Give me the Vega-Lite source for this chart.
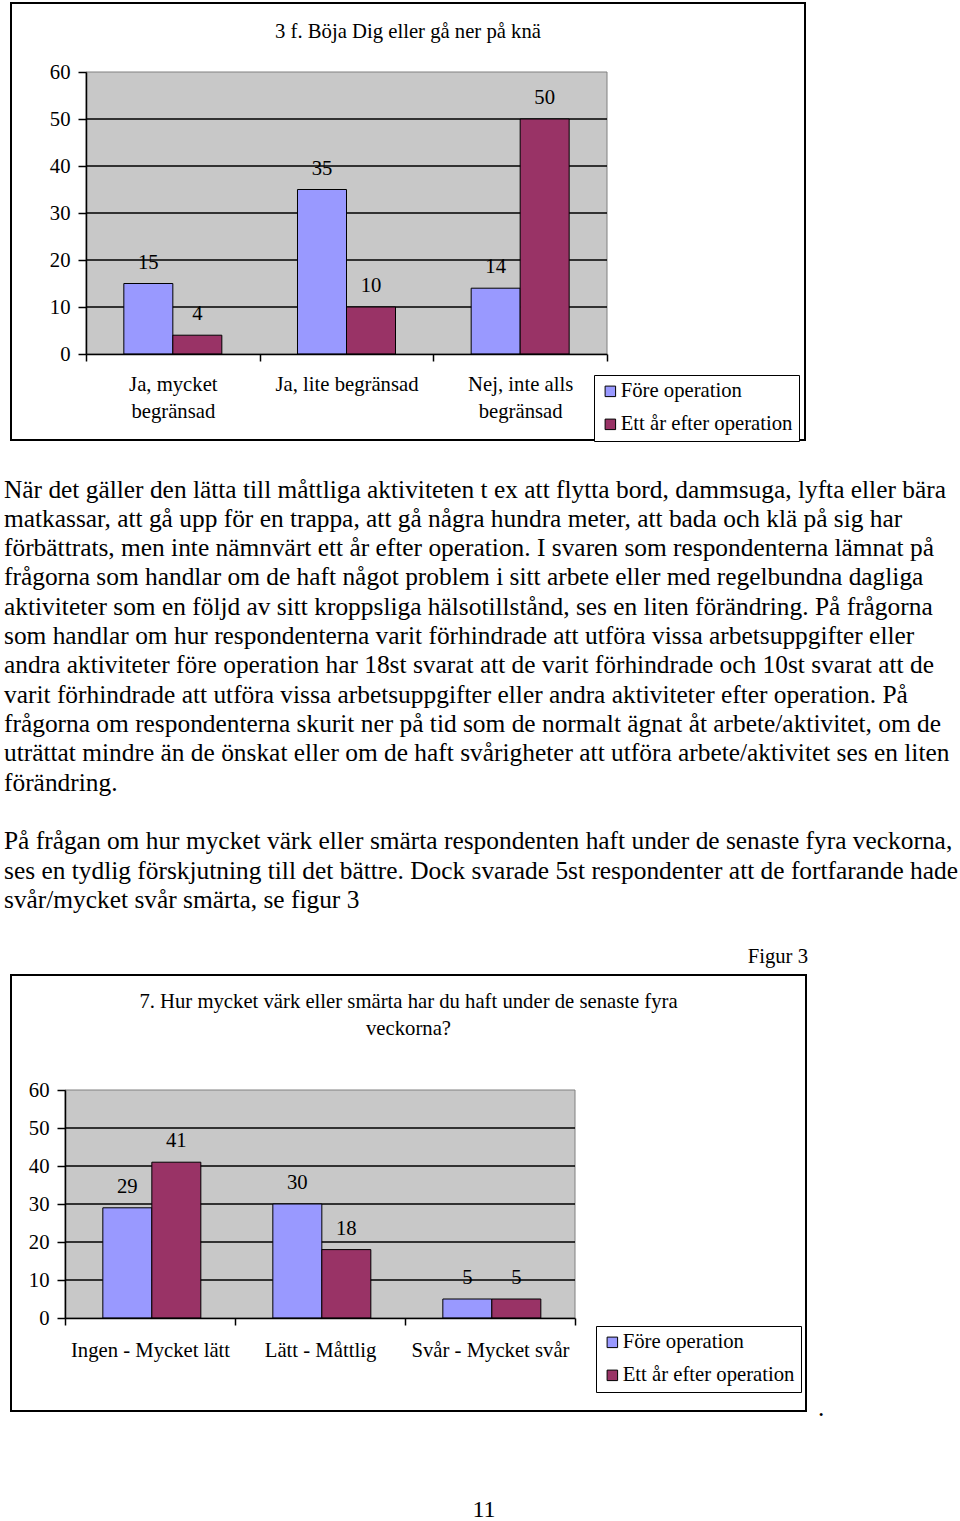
{
  "$schema": "https://vega.github.io/schema/vega-lite/v6.json",
  "padding": {"left": 4, "top": 2, "right": 0, "bottom": 0},
  "background": "white",
  "bounds": "flush",
  "spacing": 0,
  "resolve": {"scale": {"color": "independent"}, "legend": {"color": "independent"}},
  "config": {
    "view": {"stroke": "black", "strokeWidth": 2},
    "font": "Liberation Serif",
    "axis": {"labelFont": "Liberation Serif", "labelFontSize": 20.7, "labelColor": "black", "grid": false},
    "title": {"font": "Liberation Serif", "fontSize": 20.7, "fontWeight": "normal", "color": "black"}
  },
  "datasets": {
    "knee": [
      {"kategori": "Ja, mycket begränsad", "serie": "Före operation", "varde": 15},
      {"kategori": "Ja, mycket begränsad", "serie": "Ett år efter operation", "varde": 4},
      {"kategori": "Ja, lite begränsad", "serie": "Före operation", "varde": 35},
      {"kategori": "Ja, lite begränsad", "serie": "Ett år efter operation", "varde": 10},
      {"kategori": "Nej, inte alls begränsad", "serie": "Före operation", "varde": 14},
      {"kategori": "Nej, inte alls begränsad", "serie": "Ett år efter operation", "varde": 50}
    ],
    "pain": [
      {"kategori": "Ingen - Mycket lätt", "serie": "Före operation", "varde": 29},
      {"kategori": "Ingen - Mycket lätt", "serie": "Ett år efter operation", "varde": 41},
      {"kategori": "Lätt - Måttlig", "serie": "Före operation", "varde": 30},
      {"kategori": "Lätt - Måttlig", "serie": "Ett år efter operation", "varde": 18},
      {"kategori": "Svår - Mycket svår", "serie": "Före operation", "varde": 5},
      {"kategori": "Svår - Mycket svår", "serie": "Ett år efter operation", "varde": 5}
    ],
    "gridlines": [{"v": 10}, {"v": 20}, {"v": 30}, {"v": 40}, {"v": 50}]
  },
  "vconcat": [
    {
      "width": 794,
      "height": 437,
      "title": {"text": "3 f. Böja Dig eller gå ner på knä", "anchor": "middle", "frame": "group", "offset": -56, "baseline": "alphabetic"},
      "layer": [
        {
          "data": {"values": [{}]},
          "mark": {"type": "rect", "width": 521, "fill": "#c8c8c8", "fillOpacity": 1, "stroke": "#808080", "strokeWidth": 1},
          "encoding": {
            "x": {"datum": "Ja, lite begränsad", "type": "nominal"},
            "y": {"datum": 0, "type": "quantitative"},
            "y2": {"datum": 60}
          }
        },
        {
          "data": {"name": "gridlines"},
          "mark": {"type": "tick", "orient": "horizontal", "size": 521, "thickness": 1.5, "color": "black", "opacity": 1},
          "encoding": {
            "x": {"datum": "Ja, lite begränsad", "type": "nominal"},
            "y": {"field": "v", "type": "quantitative"}
          }
        },
        {
          "data": {"name": "knee"},
          "mark": {"type": "bar", "stroke": "black", "strokeWidth": 1, "opacity": 1},
          "encoding": {
            "x": {
              "field": "kategori", "type": "nominal", "sort": null,
              "scale": {"domain": ["Ja, mycket begränsad", "Ja, lite begränsad", "Nej, inte alls begränsad"], "range": [75, 596], "paddingInner": 0, "paddingOuter": 0},
              "axis": {
                "orient": "bottom", "offset": -86, "title": null, "zindex": 1,
                "domain": true, "domainColor": "black", "domainWidth": 1.5,
                "ticks": true, "tickBand": "extent", "tickSize": 7, "tickColor": "black", "tickWidth": 1.5,
                "labelPadding": 13, "labelAngle": 0, "labelAlign": "center", "labelBaseline": "top", "labelLimit": 400, "labelOverlap": false, "labelLineHeight": 27,
                "labelExpr": "datum.label == 'Ja, mycket begränsad' ? ['Ja, mycket', 'begränsad'] : datum.label == 'Nej, inte alls begränsad' ? ['Nej, inte alls', 'begränsad'] : datum.label"
              }
            },
            "xOffset": {"field": "serie", "type": "nominal", "sort": null, "scale": {"domain": ["Före operation", "Ett år efter operation"], "paddingInner": 0, "paddingOuter": 0.772}},
            "y": {
              "field": "varde", "type": "quantitative",
              "scale": {"domain": [0, 60], "range": [351, 69], "nice": false, "zero": false},
              "axis": {
                "orient": "left", "offset": -75, "title": null, "zindex": 1, "values": [0, 10, 20, 30, 40, 50, 60],
                "domain": true, "domainColor": "black", "domainWidth": 1.5,
                "ticks": true, "tickSize": 8, "tickColor": "black", "tickWidth": 1.5, "labelPadding": 8,
                "labelAlign": "right", "labelBaseline": "middle"
              }
            },
            "y2": {"datum": 0},
            "color": {
              "field": "serie", "type": "nominal", "sort": null,
              "scale": {"domain": ["Före operation", "Ett år efter operation"], "range": ["#9999ff", "#993366"]},
              "legend": {
                "orient": "none", "legendX": 583, "legendY": 372, "title": null,
                "symbolType": "square", "symbolSize": 110, "symbolStrokeColor": "black", "symbolStrokeWidth": 1, "symbolOpacity": 1,
                "labelFont": "Liberation Serif", "labelFontSize": 20.7, "labelColor": "black", "labelOffset": 0, "labelLimit": 400,
                "strokeColor": "black", "fillColor": "white", "padding": 6, "rowPadding": 11
              }
            }
          }
        },
        {
          "data": {"name": "knee"},
          "mark": {"type": "text", "baseline": "alphabetic", "dy": -15, "font": "Liberation Serif", "fontSize": 20.7, "color": "black"},
          "encoding": {
            "x": {"field": "kategori", "type": "nominal", "sort": null},
            "xOffset": {"field": "serie", "type": "nominal", "sort": null},
            "y": {"field": "varde", "type": "quantitative"},
            "text": {"field": "varde", "type": "quantitative"}
          }
        }
      ]
    },
    {
      "width": 797,
      "height": 535,
      "view": {"stroke": null},
      "layer": [
        {
          "data": {"values": [{"t": "När det gäller den lätta till måttliga aktiviteten t ex att flytta bord, dammsuga, lyfta eller bära\nmatkassar, att gå upp för en trappa, att gå några hundra meter, att bada och klä på sig har\nförbättrats, men inte nämnvärt ett år efter operation. I svaren som respondenterna lämnat på\nfrågorna som handlar om de haft något problem i sitt arbete eller med regelbundna dagliga\naktiviteter som en följd av sitt kroppsliga hälsotillstånd, ses en liten förändring. På frågorna\nsom handlar om hur respondenterna varit förhindrade att utföra vissa arbetsuppgifter eller\nandra aktiviteter före operation har 18st svarat att de varit förhindrade och 10st svarat att de\nvarit förhindrade att utföra vissa arbetsuppgifter eller andra aktiviteter efter operation. På\nfrågorna om respondenterna skurit ner på tid som de normalt ägnat åt arbete/aktivitet, om de\nuträttat mindre än de önskat eller om de haft svårigheter att utföra arbete/aktivitet ses en liten\nförändring."}]},
          "mark": {"type": "text", "align": "left", "baseline": "alphabetic", "font": "Liberation Serif", "fontSize": 25.4, "lineHeight": 29.32, "lineBreak": "\n", "color": "black"},
          "encoding": {"text": {"field": "t", "type": "nominal"}, "x": {"value": -7}, "y": {"value": 57.5}}
        },
        {
          "data": {"values": [{"t": "På frågan om hur mycket värk eller smärta respondenten haft under de senaste fyra veckorna,\nses en tydlig förskjutning till det bättre. Dock svarade 5st respondenter att de fortfarande hade\nsvår/mycket svår smärta, se figur 3"}]},
          "mark": {"type": "text", "align": "left", "baseline": "alphabetic", "font": "Liberation Serif", "fontSize": 25.4, "lineHeight": 29.32, "lineBreak": "\n", "color": "black"},
          "encoding": {"text": {"field": "t", "type": "nominal"}, "x": {"value": -7}, "y": {"value": 409.3}}
        },
        {
          "data": {"values": [{"f": "Figur 3"}]},
          "mark": {"type": "text", "align": "right", "baseline": "alphabetic", "font": "Liberation Serif", "fontSize": 20.7, "color": "black"},
          "encoding": {"text": {"field": "f", "type": "nominal"}, "x": {"value": "width"}, "y": {"value": 523}}
        }
      ]
    },
    {
      "width": 795,
      "height": 436,
      "title": {"text": ["7. Hur mycket värk eller smärta har du haft under de senaste fyra", "veckorna?"], "anchor": "middle", "frame": "group", "offset": -81, "baseline": "alphabetic", "lineHeight": 27},
      "layer": [
        {
          "data": {"values": [{}]},
          "mark": {"type": "rect", "width": 510, "fill": "#c8c8c8", "fillOpacity": 1, "stroke": "#808080", "strokeWidth": 1},
          "encoding": {
            "x": {"datum": "Lätt - Måttlig", "type": "nominal"},
            "y": {"datum": 0, "type": "quantitative"},
            "y2": {"datum": 60}
          }
        },
        {
          "data": {"name": "gridlines"},
          "mark": {"type": "tick", "orient": "horizontal", "size": 510, "thickness": 1.5, "color": "black", "opacity": 1},
          "encoding": {
            "x": {"datum": "Lätt - Måttlig", "type": "nominal"},
            "y": {"field": "v", "type": "quantitative"}
          }
        },
        {
          "data": {"name": "pain"},
          "mark": {"type": "bar", "stroke": "black", "strokeWidth": 1, "opacity": 1},
          "encoding": {
            "x": {
              "field": "kategori", "type": "nominal", "sort": null,
              "scale": {"domain": ["Ingen - Mycket lätt", "Lätt - Måttlig", "Svår - Mycket svår"], "range": [54, 564], "paddingInner": 0, "paddingOuter": 0},
              "axis": {
                "orient": "bottom", "offset": -93, "title": null, "zindex": 1,
                "domain": true, "domainColor": "black", "domainWidth": 1.5,
                "ticks": true, "tickBand": "extent", "tickSize": 7, "tickColor": "black", "tickWidth": 1.5,
                "labelPadding": 15, "labelAngle": 0, "labelAlign": "center", "labelBaseline": "top", "labelLimit": 400, "labelOverlap": false
              }
            },
            "xOffset": {"field": "serie", "type": "nominal", "sort": null, "scale": {"domain": ["Före operation", "Ett år efter operation"], "paddingInner": 0, "paddingOuter": 0.7347}},
            "y": {
              "field": "varde", "type": "quantitative",
              "scale": {"domain": [0, 60], "range": [343, 115], "nice": false, "zero": false},
              "axis": {
                "orient": "left", "offset": -54, "title": null, "zindex": 1, "values": [0, 10, 20, 30, 40, 50, 60],
                "domain": true, "domainColor": "black", "domainWidth": 1.5,
                "ticks": true, "tickSize": 8, "tickColor": "black", "tickWidth": 1.5, "labelPadding": 8,
                "labelAlign": "right", "labelBaseline": "middle"
              }
            },
            "y2": {"datum": 0},
            "color": {
              "field": "serie", "type": "nominal", "sort": null,
              "scale": {"domain": ["Före operation", "Ett år efter operation"], "range": ["#9999ff", "#993366"]},
              "legend": {
                "orient": "none", "legendX": 585, "legendY": 351, "title": null,
                "symbolType": "square", "symbolSize": 110, "symbolStrokeColor": "black", "symbolStrokeWidth": 1, "symbolOpacity": 1,
                "labelFont": "Liberation Serif", "labelFontSize": 20.7, "labelColor": "black", "labelOffset": 0, "labelLimit": 400,
                "strokeColor": "black", "fillColor": "white", "padding": 6, "rowPadding": 11
              }
            }
          }
        },
        {
          "data": {"name": "pain"},
          "mark": {"type": "text", "baseline": "alphabetic", "dy": -15, "font": "Liberation Serif", "fontSize": 20.7, "color": "black"},
          "encoding": {
            "x": {"field": "kategori", "type": "nominal", "sort": null},
            "xOffset": {"field": "serie", "type": "nominal", "sort": null},
            "y": {"field": "varde", "type": "quantitative"},
            "text": {"field": "varde", "type": "quantitative"}
          }
        }
      ]
    },
    {
      "width": 946,
      "height": 108,
      "view": {"stroke": null},
      "data": {"values": [{"sida": "11", "punkt": "."}]},
      "layer": [
        {
          "mark": {"type": "text", "align": "center", "baseline": "alphabetic", "font": "Liberation Serif", "fontSize": 24, "color": "black"},
          "encoding": {"text": {"field": "sida", "type": "nominal"}, "y": {"value": 106}}
        },
        {
          "mark": {"type": "text", "align": "left", "baseline": "alphabetic", "font": "Liberation Serif", "fontSize": 25.3, "color": "black"},
          "encoding": {"text": {"field": "punkt", "type": "nominal"}, "x": {"value": 807}, "y": {"value": 5}}
        }
      ]
    }
  ]
}
